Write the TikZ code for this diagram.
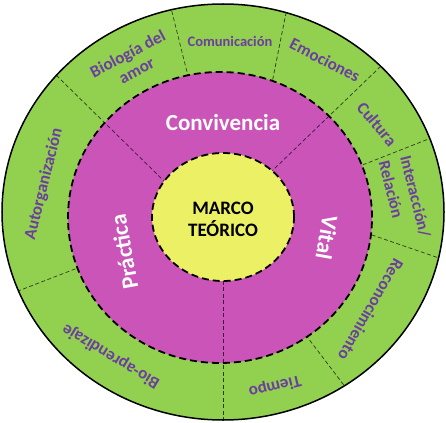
\documentclass[tikz,border=0pt]{standalone}
\usepackage{fontspec}
\setmainfont{Carlito}
\definecolor{ringgreen}{RGB}{146,208,80}
\definecolor{ringmag}{RGB}{202,84,184}
\definecolor{coreyellow}{RGB}{236,240,100}
\definecolor{labpurple}{RGB}{108,62,158}
\tikzset{
  divider/.style={black,opacity=0.7,line width=0.7pt,dash pattern=on 4pt off 2.5pt,shorten <=-40pt,shorten >=-40pt},
  ringlabel/.style={text=labpurple,font=\bfseries\fontsize{17}{19}\selectfont,inner sep=0pt},
  whitelabel/.style={text=white,font=\bfseries\fontsize{23}{26}\selectfont,inner sep=0pt},
  boldborder/.style={line width=1.8pt,dash pattern=on 7pt off 4pt}
}
\begin{document}
\begin{tikzpicture}[x=1pt,y=-1pt]
\useasboundingbox (0,0) rectangle (446,422);
% outer ring
\coordinate (oc) at (223,212);
\coordinate (mc) at (220,217.5);
\coordinate (yc) at (223,217);
\fill[ringgreen] (oc) ellipse [x radius=221pt, y radius=208pt];
% green-only dividers
\begin{scope}
\clip (oc) ellipse [x radius=221pt, y radius=208pt];
\coordinate (a1) at (172,12);  \coordinate (b1) at (187,72);
\coordinate (a2) at (286,13);  \coordinate (b2) at (273,78);
\coordinate (a3) at (426,140); \coordinate (b3) at (370,162);
\coordinate (a4) at (436,257); \coordinate (b4) at (372,235);
\coordinate (a5) at (343,384); \coordinate (b5) at (308,338);
\coordinate (a6) at (18,291);  \coordinate (b6) at (75,269);
\foreach \i in {1,...,6} \draw[divider] (a\i) -- (b\i);
\end{scope}
% magenta ring
\fill[ringmag] (mc) ellipse [x radius=152pt, y radius=145.5pt];
\begin{scope}
\clip (oc) ellipse [x radius=221pt, y radius=208pt];
\coordinate (f1) at (57,76);   \coordinate (g1) at (163,180);
\coordinate (f2) at (380,67);  \coordinate (g2) at (273,170);
\coordinate (f3) at (223,420); \coordinate (g3) at (223,281);
\foreach \i in {1,2,3} \draw[divider] (f\i) -- (g\i);
\end{scope}
\draw[boldborder] (mc) ellipse [x radius=152pt, y radius=145.5pt];
\draw[line width=1.5pt] (oc) ellipse [x radius=221pt, y radius=208pt];
% core
\filldraw[fill=coreyellow,boldborder] (yc) ellipse [x radius=71pt, y radius=64pt];
\node[font=\bfseries\fontsize{19}{22}\selectfont,align=center,inner sep=0pt] (core) at (223,219) {MARCO\\TEÓRICO};
% white labels
\node[whitelabel] (conv) at (223,123) {Convivencia};
\node[whitelabel,rotate=100] (prac) at (124,252) {Práctica};
\node[whitelabel,rotate=-100] (vital) at (327,238) {Vital};
% ring labels
\node[ringlabel,align=center,rotate=28] (bio) at (132,62) {Biología del\\amor};
\node[ringlabel,font=\bfseries\fontsize{14.5}{16}\selectfont] (com) at (230,41) {Comunicación};
\node[ringlabel,rotate=-27] (emo) at (325,60) {Emociones};
\node[ringlabel,rotate=-50] (cul) at (377,124) {Cultura};
\node[ringlabel,align=left,rotate=-76,font=\bfseries\fontsize{16.5}{22}\selectfont] (inter) at (405,199) {Interacción/\\Relación};
\node[ringlabel,rotate=-120] (reco) at (371,310) {Reconocimiento};
\node[ringlabel,rotate=-166] (tiem) at (275,386) {Tiempo};
\node[ringlabel,rotate=149] (bioap) at (111,356) {Bio-aprendizaje};
\node[ringlabel,rotate=76] (auto) at (44,184) {Autorganización};
\end{tikzpicture}
\end{document}
